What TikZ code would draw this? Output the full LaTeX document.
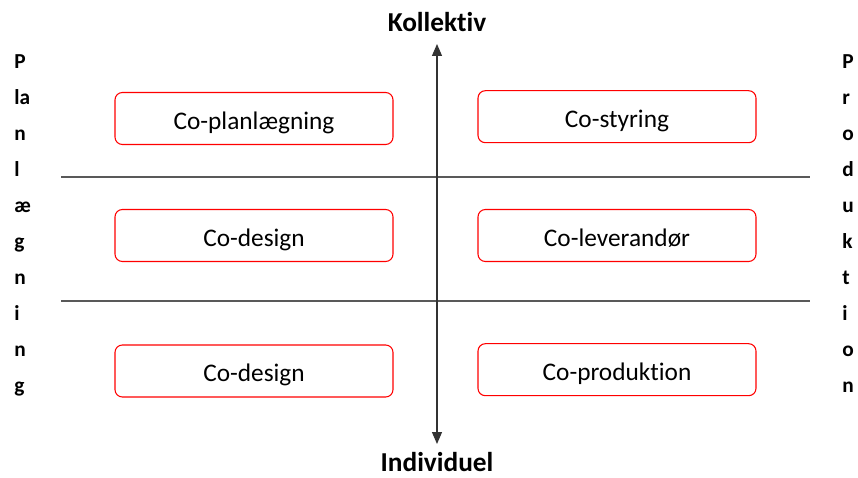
\documentclass[tikz,border=0pt]{standalone}
\usepackage{fontspec}
\setmainfont{Carlito}[Ligatures=NoCommon]
\usetikzlibrary{arrows.meta}

\tikzset{
  cobox/.style={draw=red, line width=0.8pt, rounded corners=5.5pt, minimum width=208.5pt, minimum height=39pt, inner sep=0.75pt, text height=15.8pt, text depth=0pt, font=\fontsize{19}{21}\selectfont},
  axislabel/.style={inner sep=0.75pt, font=\fontsize{20.5}{22}\selectfont\bfseries},
  sidetext/.style={inner sep=0pt, align=left, font=\fontsize{16}{27}\selectfont\bfseries},
  divider/.style={draw=black!65, line width=0.8pt},
  axisline/.style={draw=black!80, line width=0.9pt, {Triangle[width=7.5pt,length=9pt]}-{Triangle[width=7.5pt,length=9pt]}}
}

\begin{document}
\begin{tikzpicture}[x=0.75pt,y=0.75pt,yscale=-1,xscale=1]
%set diagram left start at 0, and has height of 478
\path[use as bounding box] (0,0) rectangle (858,478);

%Straight Lines [id:divider top]
\draw[divider] (61,177) -- (810,177);
%Straight Lines [id:divider bottom]
\draw[divider] (61,301) -- (810,301);

% Text Node
\node[axislabel] (kol) at (437,22) {Kollektiv};
% Text Node
\node[axislabel] (ind) at (437,462) {Individuel};
\coordinate (axtop) at (437,44);
\coordinate (axbot) at (437,444);
%Straight Lines [id:axis]
\draw[axisline] (axtop) -- (axbot);

% Text Node
\node[sidetext, anchor=north west] (plan) at (14,54) {P\\la\\n\\l\\æ\\g\\n\\i\\n\\g};
% Text Node
\node[sidetext, anchor=north west] (prod) at (842,54) {P\\r\\o\\d\\u\\k\\t\\i\\o\\n};

%Rounded Rect [id:left column]
\node[cobox] (plnl) at (254,118.5) {Co-planlægning};
\node[cobox] (desa) at (254,235.5) {Co-design};
\node[cobox] (desb) at (254,371) {Co-design};
%Rounded Rect [id:right column]
\node[cobox] (styr) at (617,116.7) {Co-styring};
\node[cobox] (leve) at (617,235.5) {Co-leverandør};
\node[cobox] (prdk) at (617,369.7) {Co-produktion};

\end{tikzpicture}
\end{document}
